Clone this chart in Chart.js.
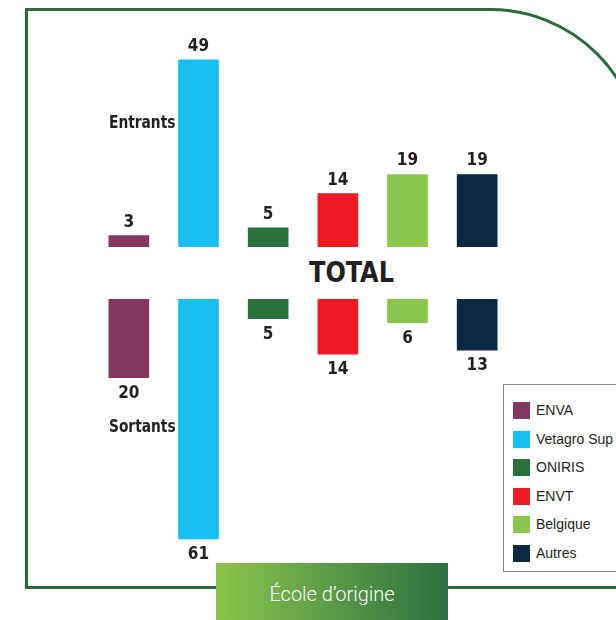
<!DOCTYPE html>
<html>
<head>
<meta charset="utf-8">
<script src="https://cdn.jsdelivr.net/npm/chart.js@4.4.0/dist/chart.umd.min.js"></script>
<style>
  html, body { margin: 0; padding: 0; background: #fff; width: 616px; height: 620px; overflow: hidden; position: relative; }
  .frame { position: absolute; left: 25px; top: 8px; width: 612px; height: 575px; border: 3px solid #2a6b3c; border-top-right-radius: 153px; box-sizing: content-box; }
  .wrap { position: absolute; left: 94px; width: 418px; }
  #wrapTop { top: 0; height: 247px; }
  #wrapBot { top: 299px; height: 300px; }
  .cond { position: absolute; font-family: "DejaVu Sans Condensed", sans-serif; font-weight: bold; color: #231f20; transform-origin: left top; white-space: nowrap; }
  .legend { position: absolute; left: 503px; top: 384px; width: 140px; height: 186px; border: 1px solid #8a8580; background: #fff; font-family: "Liberation Sans", Arial, sans-serif; font-size: 14px; color: #231f20; }
  .legend div { position: absolute; left: 9px; height: 17px; line-height: 17px; }
  .legend span { display: inline-block; width: 17px; height: 17px; vertical-align: top; margin-right: 6px; }
  .badge { position: absolute; left: 216px; top: 563px; width: 232px; height: 60px; background: linear-gradient(to right, #8bc54c, #2a7040); color: #fff; font-family: Roboto, "Open Sans", sans-serif; font-weight: 300; font-size: 20px; text-align: center; line-height: 62px; }
</style>
</head>
<body>
<div class="frame"></div>
<div class="wrap" id="wrapTop"><canvas id="chartTop"></canvas></div>
<div class="wrap" id="wrapBot"><canvas id="chartBot"></canvas></div>
<div class="cond" style="left:109px; top:111px; font-size:18px; transform:scaleX(0.85);">Entrants</div>
<div class="cond" style="left:109px; top:415px; font-size:18px; transform:scaleX(0.85);">Sortants</div>
<div class="cond" style="left:309px; top:255px; font-size:29px; transform:scaleX(0.92);">TOTAL</div>
<div class="legend" id="legend"></div>
<div class="badge">École d’origine</div>
<script>
const ecoles = ['ENVA', 'Vetagro Sup', 'ONIRIS', 'ENVT', 'Belgique', 'Autres'];
const entrants = [3, 49, 5, 14, 19, 19];
const sortants = [20, 61, 5, 14, 6, 13];
const couleurs = ['#85375f', '#17c0f0', '#28703c', '#ed1c24', '#8bc54c', '#0b2a42'];

// legende faite a la main
const legend = document.getElementById('legend');
ecoles.forEach(function(nom, i) {
    const item = document.createElement('div');
    item.style.top = (17 + i * 28.6) + 'px';
    item.innerHTML = '<span style="background:' + couleurs[i] + '"></span>' + nom;
    legend.appendChild(item);
});

// etiquettes des valeurs au bout des barres
const valueLabels = {
    id: 'valueLabels',
    afterDatasetsDraw(chart, args, opts) {
        const ctx = chart.ctx;
        const meta = chart.getDatasetMeta(0);
        ctx.save();
        ctx.font = 'bold 17px "DejaVu Sans Condensed", sans-serif';
        ctx.fillStyle = '#231f20';
        ctx.textAlign = 'center';
        ctx.textBaseline = 'alphabetic';
        meta.data.forEach(function(bar, i) {
            const v = chart.data.datasets[0].data[i];
            const y = opts.below ? bar.y + 20 : bar.y - 9;
            ctx.fillText(v, bar.x, y);
        });
        ctx.restore();
    }
};

function makeChart(id, values, max, below) {
    const ctx = document.getElementById(id).getContext('2d');
    return new Chart(ctx, {
        type: 'bar',
        data: {
            labels: ecoles,
            datasets: [{ data: values, backgroundColor: couleurs, barThickness: 40 }]
        },
        options: {
            responsive: true,
            maintainAspectRatio: false,
            animation: false,
            layout: { padding: 0 },
            plugins: { legend: { display: false }, tooltip: { enabled: false }, valueLabels: { below: below } },
            scales: {
                x: { display: false },
                y: { display: false, min: 0, max: max, reverse: below }
            }
        },
        plugins: [valueLabels]
    });
}

makeChart('chartTop', entrants, 64.7, false);
makeChart('chartBot', sortants, 76.3, true);
</script>
</body>
</html>
